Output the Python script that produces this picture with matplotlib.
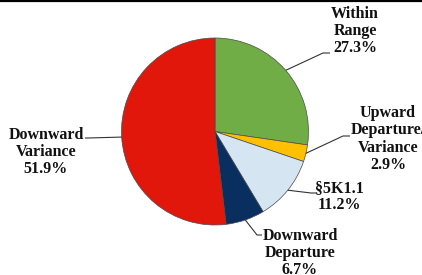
import numpy as np
import matplotlib
matplotlib.use("Agg")
import matplotlib.pyplot as plt
from matplotlib.lines import Line2D

categories = ["Within\nRange", "Upward\nDeparture/\nVariance", "§5K1.1", "Downward\nDeparture", "Downward\nVariance"]
values = [27.3, 2.9, 11.2, 6.7, 51.9]
colors = ["#70AD47", "#FFC000", "#D5E6F2", "#082F5F", "#E0170A"]

W, H = 422, 275
fig = plt.figure(figsize=(W / 100, H / 100), dpi=100)
ax = fig.add_axes([0, 0, 1, 1])

cx, cy, r = 215, H - 131.5, 93.5
wedges, _ = ax.pie(values, colors=colors, startangle=90, counterclock=False,
                   center=(cx, cy), radius=r, frame=True,
                   wedgeprops=dict(edgecolor="#4a4a4a", linewidth=0.5))
ax.set_xlim(0, W)
ax.set_ylim(0, H)
ax.set_aspect("equal")
ax.axis("off")

# label layout (pixel positions from top-left): text center, elbow, line end
label_pos = [(355, 31), (388, 139), (339, 196.5), (300, 253), (46, 152)]
elbows = [(323, 53), (343, 136), (311, 193), (257, 235), (88, 138)]
ends = [(330, 53), (350, 136), (317, 193), (262, 235), (85, 138)]

cum = np.cumsum([0] + values[:-1])
for i, (lab, v) in enumerate(zip(categories, values)):
    mid = 90 - (cum[i] + v / 2) * 3.6
    ex = cx + r * np.cos(np.radians(mid))
    ey = cy + r * np.sin(np.radians(mid))
    (bx, by), (tx, ty) = elbows[i], ends[i]
    ax.plot([ex, bx, tx], [ey, H - by, H - ty], color="#333333", lw=0.8,
            solid_capstyle="butt")
    lx, ly = label_pos[i]
    ax.text(lx, H - ly, f"{lab}\n{v:.1f}%", ha="center", va="center",
            family="Liberation Serif", weight="bold", fontsize=11.5,
            linespacing=1.1, color="#111111", clip_on=False)

fig.add_artist(Line2D([0, 1], [1 - 1 / H, 1 - 1 / H], transform=fig.transFigure,
                      color="black", lw=1.6))
fig.savefig("out.png", dpi=100)
